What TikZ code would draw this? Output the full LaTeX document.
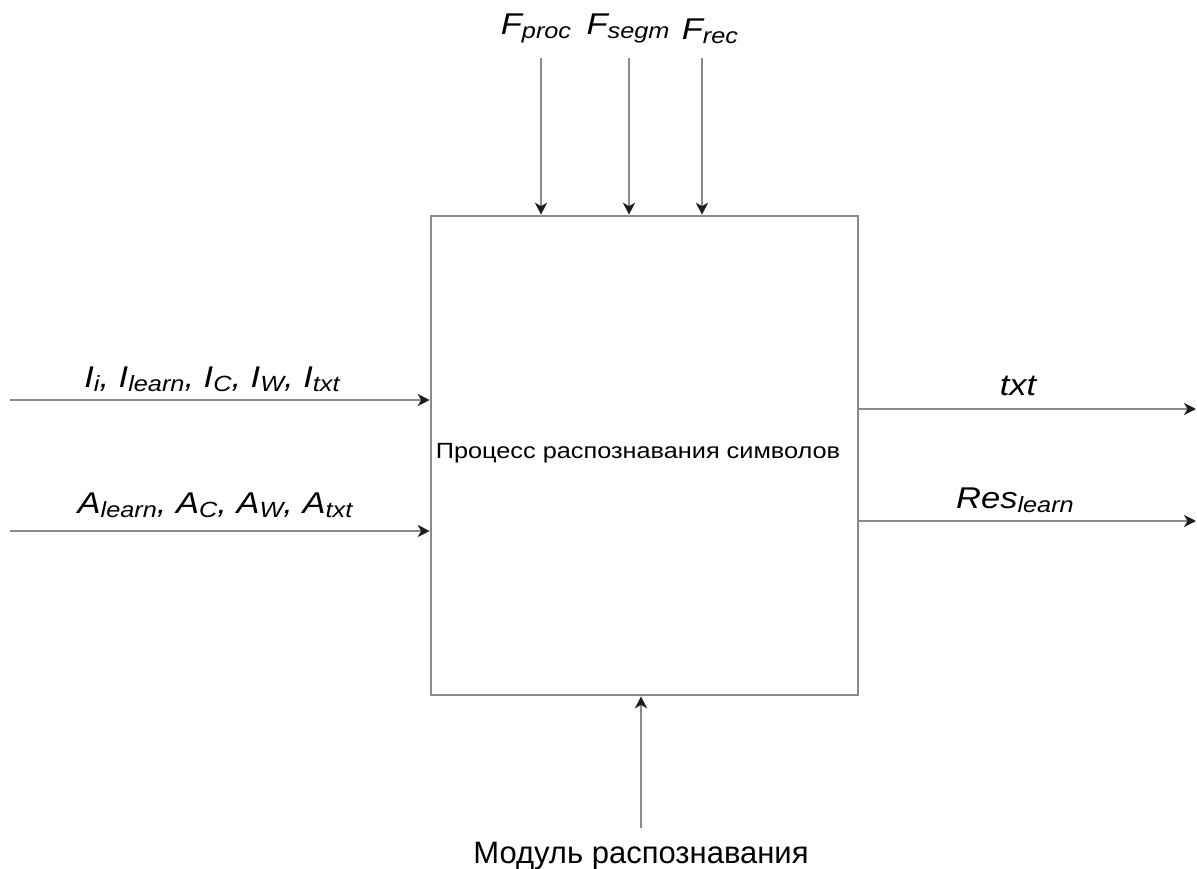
\documentclass[tikz,border=0pt]{standalone}
\usepackage{fontspec}
\setmainfont{Liberation Sans}
\newfontfamily\wide[FakeStretch=1.15]{Liberation Sans}
\usetikzlibrary{arrows.meta}
\definecolor{ln}{HTML}{8A8A8A}
\definecolor{tip}{HTML}{1E1E1E}
\newcommand\lbl[2]{#1\raisebox{-4pt}{\fontsize{22}{24}\selectfont #2}}
\tikzset{
  conn/.style={draw=ln, line width=2.6pt, -{Stealth[length=12pt,width=12pt,inset=3.5pt,color=tip]}},
  lab/.style={font=\wide\fontsize{30}{32}\selectfont\itshape, inner sep=0pt, anchor=base},
  proc/.style={draw=ln, line width=2.6pt, minimum width=427pt, minimum height=479pt, inner sep=0pt},
}
\begin{document}
\begin{tikzpicture}[x=1pt,y=-1pt]
\useasboundingbox (0,0) rectangle (1197,868);
\node[proc] (box) at (644.5,455.5) {};
\node[font=\wide\fontsize{22}{24}\selectfont, anchor=base, inner sep=0pt] (t) at (638,458) {Процесс распознавания символов};
% top controls
\coordinate (c1) at (541,58);
\coordinate (c2) at (629,58);
\coordinate (c3) at (702,58);
\draw[conn] (c1) -- (c1 |- box.north);
\draw[conn] (c2) -- (c2 |- box.north);
\draw[conn] (c3) -- (c3 |- box.north);
\node[lab] (fp) at (536,34) {\lbl{F}{proc}};
\node[lab] (fs) at (628,34) {\lbl{F}{segm}};
\node[lab] (fr) at (710,39) {\lbl{F}{rec}};
% inputs
\coordinate (i1) at (10,400);
\coordinate (i2) at (10,531);
\draw[conn] (i1) -- (i1 -| box.west);
\draw[conn] (i2) -- (i2 -| box.west);
\node[lab] (li) at (212,387) {\lbl{I}{i}, \lbl{I}{learn}, \lbl{I}{C}, \lbl{I}{W}, \lbl{I}{txt}};
\node[lab] (la) at (215,513) {\lbl{A}{learn}, \lbl{A}{C}, \lbl{A}{W}, \lbl{A}{txt}};
% outputs
\coordinate (o1) at (1196,409);
\coordinate (o2) at (1196,521);
\draw[conn] (o1 -| box.east) -- (o1);
\draw[conn] (o2 -| box.east) -- (o2);
\node[lab] (lt) at (1018,395) {txt};
\node[lab] (lr) at (1015,508) {\lbl{Res}{learn}};
% mechanism
\coordinate (m) at (641,828);
\draw[conn] (m) -- (m |- box.south);
\node[font=\fontsize{31}{33}\selectfont, anchor=base, inner sep=0pt] (lm) at (641,863) {Модуль распознавания};
\end{tikzpicture}
\end{document}
